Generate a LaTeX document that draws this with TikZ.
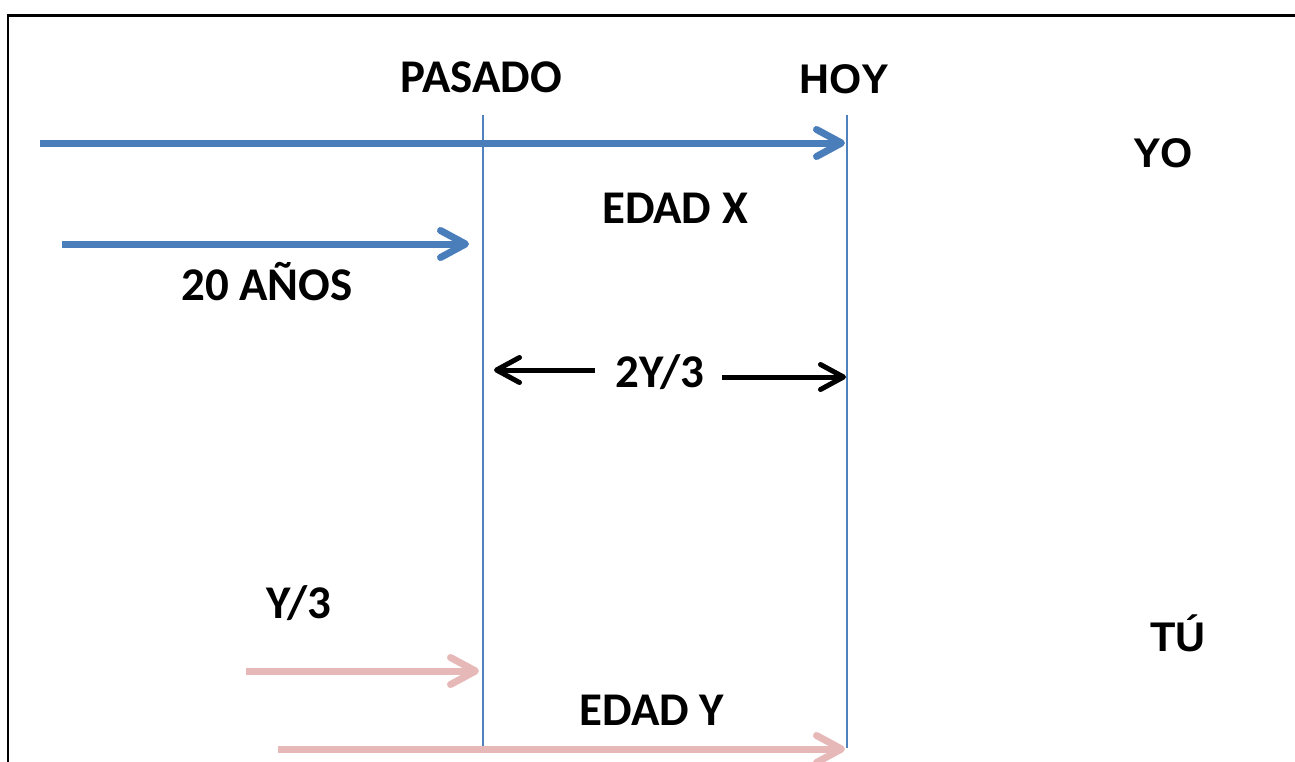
\documentclass[tikz,border=0pt]{standalone}
\usepackage{fontspec}
\setmainfont{Carlito}
\newfontfamily\arialfont{Liberation Sans}
\usetikzlibrary{arrows.meta}

\definecolor{lineblue}{HTML}{4F81BD}
\definecolor{arrowblue}{HTML}{4A7EBB}
\definecolor{arrowpink}{HTML}{E6B9B8}

\begin{document}
\begin{tikzpicture}[x=0.02cm,y=-0.02cm,
		label/.style={font=\fontsize{26.7}{27}\selectfont\bfseries,anchor=base,inner sep=0pt},
		alabel/.style={font=\arialfont\fontsize{23.6}{24}\selectfont\bfseries,anchor=base,inner sep=0pt},
		bigarrow/.style={line width=0.14cm,-{Straight Barb[length=5mm,width=5.4mm,round]}},
		smallarrow/.style={line width=0.1cm,black,-{Straight Barb[length=4.6mm,width=5mm,round]}}]
				\clip (0,0) rectangle (1295,761);
				% frame
				\draw[line width=0.06cm] (8,800) -- (8,15) -- (1320,15);
				% time marks
				\coordinate (pasadoTop) at (483,115);
				\coordinate (pasadoBot) at (483,747);
				\coordinate (hoyTop) at (847,115);
				\coordinate (hoyBot) at (847,748);
				\draw[lineblue,line width=0.03cm] (pasadoTop) -- (pasadoBot);
				\draw[lineblue,line width=0.05cm] (hoyTop) -- (hoyBot);
				\node[label] (pasado) at (481,92) {PASADO};
				\node[alabel] (hoy) at (844,93) {HOY};
				% yo
				\coordinate (yoStart) at (40,143);
				\coordinate (yoEnd) at (845,143);
				\draw[bigarrow,arrowblue] (yoStart) -- (yoEnd);
				\coordinate (veinteStart) at (62,244);
				\coordinate (veinteEnd) at (469,244);
				\draw[bigarrow,arrowblue] (veinteStart) -- (veinteEnd);
				\node[alabel] (yo) at (1163,167) {YO};
				\node[label] (edadx) at (675,223) {EDAD X};
				\node[label] (veinte) at (267,300) {20 AÑOS};
				% diferencia
				\node[label] (dosy) at (660,387) {2Y/3};
				\coordinate (difLeft) at (494,370);
				\coordinate (difRight) at (846,377);
				\draw[smallarrow] (595,370) -- (difLeft);
				\draw[smallarrow] (722,377) -- (difRight);
				% tu
				\node[label] (ytres) at (299,618) {Y/3};
				\node[alabel] (tu) at (1178,651) {TÚ};
				\coordinate (tuStart) at (246,671);
				\coordinate (tuEnd) at (479,671);
				\draw[bigarrow,arrowpink] (tuStart) -- (tuEnd);
				\node[label] (edady) at (652,725) {EDAD Y};
				\coordinate (edadStart) at (278,749);
				\coordinate (edadEnd) at (845,749);
				\draw[bigarrow,arrowpink] (edadStart) -- (edadEnd);
			\end{tikzpicture}
\end{document}
